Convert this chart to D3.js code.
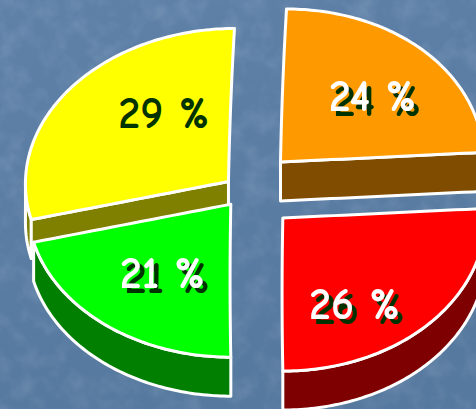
<!DOCTYPE html>
<html>
<head>
<meta charset="utf-8">
<script src="https://cdn.jsdelivr.net/npm/d3@7"></script>
<style>
  html, body { margin: 0; padding: 0; background: #5a7ca3; }
  svg { display: block; }
</style>
</head>
<body>
<svg id="chart" width="476" height="409"></svg>
<script>
// ---- data ----
const categories = ["A", "B", "C", "D"];
const values = [24, 26, 21, 29];
const topColors = ["#FF9900", "#FF0000", "#00FF00", "#FFFF00"];
const sideColors = ["#7F4C00", "#7F0000", "#007F00", "#7F7F00"];

// ---- layout (styles, not data) ----
const W = 476, H = 409;
const center = { x: 244.5, y: 190.9 };
const rx = 203, ry = 153, depth = 39, shear = 6;
const explode = [0.259, 0.259, 0.11, 0.10];
const labelR = [0.62, 0.66, 0.556, 0.56];
const labelA = [45.6, 147.4, 217, 324];
const labelWhite = [true, true, true, false];
const drawOrder = [3, 0, 2, 1];

const svg = d3.select("#chart");
const defs = svg.append("defs");
const grad = defs.append("linearGradient").attr("id", "bg").attr("x1", 0).attr("y1", 0).attr("x2", 0.3).attr("y2", 1);
grad.append("stop").attr("offset", 0).attr("stop-color", "#5f81a8");
grad.append("stop").attr("offset", 1).attr("stop-color", "#56799f");
const f = defs.append("filter").attr("id", "tex").attr("x", 0).attr("y", 0).attr("width", 1).attr("height", 1);
f.append("feTurbulence").attr("type", "fractalNoise").attr("baseFrequency", "0.045").attr("numOctaves", 3).attr("seed", 7);
f.append("feColorMatrix").attr("type", "matrix")
  .attr("values", "0 0 0 0 0.78  0 0 0 0 0.85  0 0 0 0 0.95  0.9 0 0 0 -0.38");

// drop shadow for labels
const sh = defs.append("filter").attr("id", "shadow").attr("x", "-20%").attr("y", "-30%").attr("width", "150%").attr("height", "170%");
sh.append("feOffset").attr("in", "SourceAlpha").attr("dx", 5).attr("dy", 5).attr("result", "off");
sh.append("feFlood").attr("flood-color", "#003300").attr("result", "col");
sh.append("feComposite").attr("in", "col").attr("in2", "off").attr("operator", "in").attr("result", "shad");
const mg = sh.append("feMerge");
mg.append("feMergeNode").attr("in", "shad");
mg.append("feMergeNode").attr("in", "SourceGraphic");

svg.append("rect").attr("width", W).attr("height", H).attr("fill", "url(#bg)");
svg.append("rect").attr("width", W).attr("height", H).attr("filter", "url(#tex)").attr("opacity", 0.3);

const pie = d3.pie().sort(null).value(d => d)(values);
const deg = r => r * 180 / Math.PI;
const rad = a => a * Math.PI / 180;

// angles: degrees clockwise from 12 o'clock
function apexOf(i) {
  const s = pie[i];
  const m = (s.startAngle + s.endAngle) / 2;
  return {
    x: center.x + explode[i] * rx * Math.sin(m),
    y: center.y - explode[i] * ry * Math.cos(m)
  };
}
function proj(ap, t, aDeg, z) {
  const a = rad(aDeg);
  const u = t * Math.sin(a), v = -t * Math.cos(a);
  return [ap.x + rx * u + shear * v * (v - 1) / 2, ap.y + ry * v + z * depth];
}
const line = d3.line();
const arcPts = (ap, a0, a1, z) => {
  const n = Math.max(2, Math.ceil(Math.abs(a1 - a0)));
  return d3.range(n + 1).map(k => proj(ap, 1, a0 + (a1 - a0) * k / n, z));
};
const radialPts = (ap, a, z, outward) => {
  const p = d3.range(0, 21).map(k => proj(ap, k / 20, a, z));
  return outward ? p : p.reverse();
};

const g = svg.append("g");
drawOrder.forEach(i => {
  const s = pie[i];
  const a0 = deg(s.startAngle), a1 = deg(s.endAngle);
  const ap = apexOf(i);
  const sg = g.append("g").attr("class", "slice " + categories[i]);
  const style = sel => sel.attr("stroke", "#fff").attr("stroke-width", 3).attr("stroke-linejoin", "round");

  // outer side (front half 90..270)
  const s0 = Math.max(a0, 90), s1 = Math.min(a1, 270);
  if (s1 - s0 > 0.5) {
    const pts = arcPts(ap, s0, s1, 0).concat(arcPts(ap, s1, s0, 1));
    sg.append("path").attr("d", line(pts) + "Z").attr("fill", sideColors[i]).call(style);
  }
  // cut faces facing the viewer
  const faces = [];
  if (-Math.cos(rad(a1 + 90)) > 0.05) faces.push(a1);
  if (-Math.cos(rad(a0 - 90)) > 0.05) faces.push(a0);
  faces.forEach(a => {
    const pts = radialPts(ap, a, 0, true).concat(radialPts(ap, a, 1, false));
    sg.append("path").attr("d", line(pts) + "Z").attr("fill", sideColors[i]).call(style);
  });
  // top face
  const topPts = radialPts(ap, a0, 0, true).concat(arcPts(ap, a0, a1, 0)).concat(radialPts(ap, a1, 0, false));
  sg.append("path").attr("d", line(topPts) + "Z").attr("fill", topColors[i]).call(style);
});

// labels
const lg = svg.append("g").attr("font-family", "'Comic Sans MS', 'Comic Neue', Lato, 'DejaVu Sans', sans-serif")
  .attr("font-weight", "bold").attr("font-size", 44).attr("text-anchor", "middle");
values.forEach((v, i) => {
  const ap = apexOf(i);
  const [x, y] = proj(ap, labelR[i], labelA[i], 0);
  const t = lg.append("text").attr("x", x).attr("y", y).attr("dy", "0.36em").text(v + " %");
  if (labelWhite[i]) t.attr("fill", "#ffffff").attr("filter", "url(#shadow)");
  else t.attr("fill", "#003300");
});
</script>
</body>
</html>
